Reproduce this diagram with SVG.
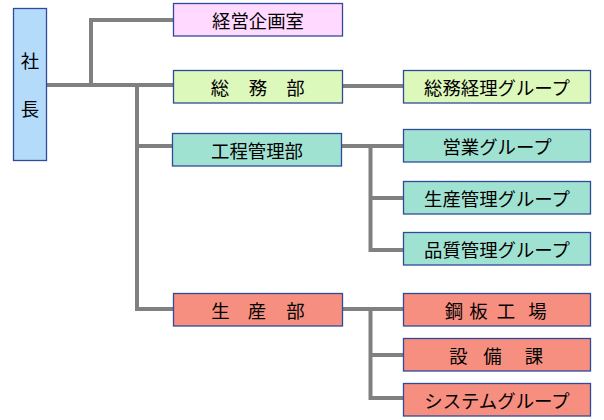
<svg xmlns="http://www.w3.org/2000/svg" width="604" height="420" viewBox="0 0 604 420">
<style>
.box{stroke:#2f4a9a;stroke-width:1.3}
.ceo{fill:#b4dcfa}
.pink{fill:#ffd9ff}
.green{fill:#ddf8bb}
.teal{fill:#a0e2d2}
.red{fill:#f78f80}
text{font-family:"Noto Sans CJK JP","Noto Sans",sans-serif;font-size:18.4px;fill:#000;text-anchor:middle;dominant-baseline:central}
.conn{fill:none;stroke:#808080;stroke-width:4;stroke-linejoin:miter;stroke-linecap:butt}
</style>
<rect width="604" height="420" fill="#fff"/>
<g id="connectors">
<path class="conn" d="M46 85H174M91 85V20H174M137 85V309H174M137 146H174"/>
<path class="conn" d="M342 86H404"/>
<path class="conn" d="M342 146H404M370.5 146V250H404M370.5 198H404"/>
<path class="conn" d="M342 309H404M370.5 309V398H404M370.5 355H404"/>
</g>
<g id="ceo"><rect class="box ceo" x="13.5" y="8.5" width="33" height="152"/><text x="30" y="60">社</text><text x="30" y="108">長</text></g>
<g id="keiei"><rect class="box pink" x="173.5" y="3.5" width="169" height="32.5"/><text x="258" y="20">経営企画室</text></g>
<g id="soumu"><rect class="box green" x="173.5" y="70.5" width="169" height="32.5"/><text x="220" y="87">総</text><text x="258" y="87">務</text><text x="295.5" y="87">部</text></g>
<g id="koutei"><rect class="box teal" x="172.5" y="133.5" width="169" height="32.5"/><text x="257" y="150">工程管理部</text></g>
<g id="seisan"><rect class="box red" x="173.5" y="293.5" width="169" height="32.5"/><text x="220.5" y="310">生</text><text x="257" y="310">産</text><text x="295.5" y="310">部</text></g>
<g id="soumukeiri"><rect class="box green" x="403.5" y="70.5" width="187" height="32.5"/><text x="497" y="87">総務経理グループ</text></g>
<g id="eigyou"><rect class="box teal" x="403.5" y="129.5" width="187" height="32.5"/><text x="497" y="146">営業グループ</text></g>
<g id="seisankanri"><rect class="box teal" x="403.5" y="181.5" width="187" height="32.5"/><text x="497" y="198">生産管理グループ</text></g>
<g id="hinshitsu"><rect class="box teal" x="403.5" y="232.5" width="187" height="32.5"/><text x="497" y="249">品質管理グループ</text></g>
<g id="kouban"><rect class="box red" x="403.5" y="293.5" width="187" height="32.5"/><text x="454" y="310">鋼</text><text x="478.5" y="310">板</text><text x="506" y="310">工</text><text x="537.5" y="310">場</text></g>
<g id="setsubi"><rect class="box red" x="403.5" y="338.5" width="187" height="32.5"/><text x="458.5" y="355">設</text><text x="492.5" y="355">備</text><text x="534" y="355">課</text></g>
<g id="system"><rect class="box red" x="403.5" y="383.5" width="187" height="32.5"/><text x="497" y="400">システムグループ</text></g>
</svg>
